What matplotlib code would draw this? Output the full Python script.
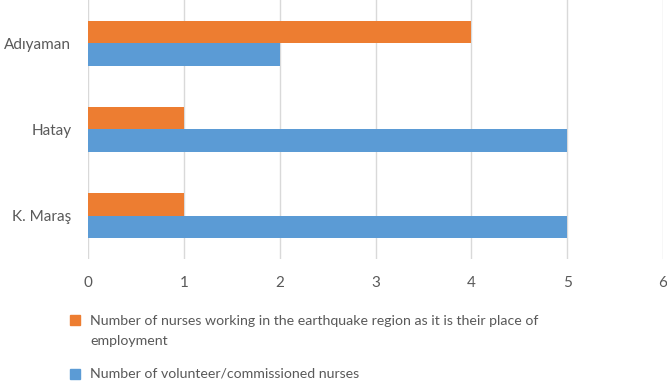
import numpy as np
import matplotlib.pyplot as plt
from matplotlib.lines import Line2D

# Data
regions = ['Adıyaman', 'Hatay', 'K. Maraş']
workplace_nurses = [4, 1, 1]
volunteer_nurses = [2, 5, 5]
x_ticks = [0, 1, 2, 3, 4, 5, 6]
label_workplace = 'Number of nurses working in the earthquake region as it is their place of\nemployment'
label_volunteer = 'Number of volunteer/commissioned nurses'

orange = '#ED7D31'
blue = '#5B9BD5'
text_gray = '#595959'

plt.rcParams['font.family'] = ['Lato', 'DejaVu Sans']

W, H = 667, 382
fig = plt.figure(figsize=(W / 100, H / 100), dpi=100)
ax = fig.add_axes([0.132, 0.322, 0.862, 0.678])

y = np.arange(len(regions))
h = 0.26
ax.barh(y - h / 2, workplace_nurses, height=h, color=orange, zorder=3)
ax.barh(y + h / 2, volunteer_nurses, height=h, color=blue, zorder=3)

ax.set_ylim(len(regions) - 0.5, -0.5)
ax.set_xlim(0, 6)
ax.set_yticks(y)
ax.set_yticklabels(regions)
ax.set_xticks(x_ticks)
ax.grid(axis='x', color='#D9D9D9', linewidth=1, zorder=0)
for s in ax.spines.values():
    s.set_visible(False)
ax.tick_params(axis='both', length=0, labelsize=11, colors=text_gray)
ax.tick_params(axis='x', pad=12)
ax.tick_params(axis='y', pad=12)

# legend below the plot, drawn by hand (pixel positions from the top)
legend_items = [
    (orange, label_workplace, 320, 331),
    (blue, label_volunteer, 374, 374),
]
for color, label, marker_py, text_py in legend_items:
    fig.add_artist(Line2D([75 / W], [1 - marker_py / H], transform=fig.transFigure,
                          marker='s', markersize=6.5, color=color, linestyle='none'))
    fig.text(90 / W, 1 - text_py / H, label, ha='left', va='center',
             fontsize=10.2, color=text_gray, linespacing=1.75)

fig.savefig('out.png', dpi=100)
